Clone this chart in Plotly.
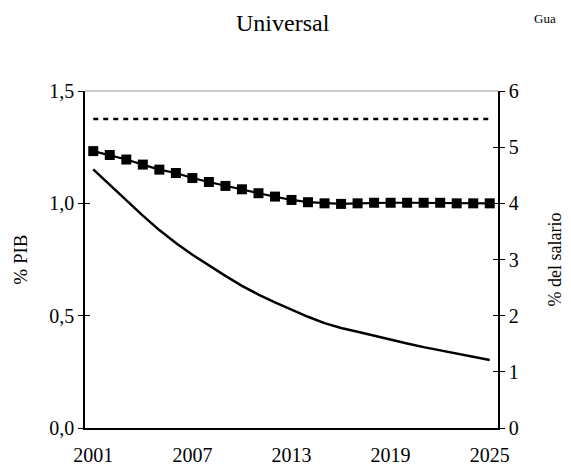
import plotly.graph_objects as go

years = list(range(2001, 2026))

# Solid line: % PIB (left axis)
pib = [1.151, 1.082, 1.013, 0.945, 0.881, 0.823, 0.771, 0.723, 0.677, 0.633,
       0.594, 0.559, 0.526, 0.495, 0.467, 0.445, 0.428, 0.410, 0.393, 0.376,
       0.360, 0.345, 0.330, 0.316, 0.303]

# Squares line: % del salario (right axis)
salario = [4.93, 4.86, 4.78, 4.69, 4.60, 4.54, 4.45, 4.38, 4.31, 4.25,
           4.18, 4.12, 4.06, 4.02, 4.00, 3.99, 4.00, 4.01, 4.01, 4.01,
           4.01, 4.01, 4.00, 4.00, 4.00]

# Dotted line: % del salario (right axis)
salario_ref = [5.5] * 25

left_ticks = [0.0, 0.5, 1.0, 1.5]
right_ticks = [0, 1, 2, 3, 4, 5, 6]
x_ticks = [2001, 2007, 2013, 2019, 2025]

FONT = "Liberation Serif"

fig = go.Figure()
fig.add_trace(go.Scatter(x=years, y=salario_ref, yaxis="y2", mode="lines",
                         line=dict(color="black", width=2.5, dash="5px,5px"),
                         showlegend=False, hoverinfo="skip"))
fig.add_trace(go.Scatter(x=years, y=salario, yaxis="y2", mode="lines+markers",
                         line=dict(color="black", width=2.2),
                         marker=dict(symbol="square", size=10, color="black"),
                         showlegend=False))
fig.add_trace(go.Scatter(x=years, y=pib, yaxis="y", mode="lines",
                         line=dict(color="black", width=2.5),
                         showlegend=False))
# invisible traces to activate the tick-overlay axes (cross ticks)
fig.add_trace(go.Scatter(x=[years[0]], y=[0], yaxis="y3", mode="markers",
                         marker=dict(opacity=0), showlegend=False, hoverinfo="skip"))
fig.add_trace(go.Scatter(x=[years[0]], y=[0], yaxis="y4", mode="markers",
                         marker=dict(opacity=0), showlegend=False, hoverinfo="skip"))

tickfont = dict(family=FONT, size=20, color="black")

fig.update_layout(
    template="none",
    width=563, height=460,
    margin=dict(l=77, r=73, t=83, b=40, pad=0),
    paper_bgcolor="white", plot_bgcolor="white",
    separators=", ",
    xaxis=dict(range=[2000.5, 2025.5], tickvals=x_ticks, ticks="",
               showline=True, linecolor="black", linewidth=1.5,
               showgrid=False, zeroline=False, tickfont=tickfont,
               ticklabelstandoff=8, automargin=False),
    yaxis=dict(range=[0, 1.5], tickvals=left_ticks, tickformat=".1f",
               ticks="outside", ticklen=5, tickcolor="black", tickwidth=1,
               showline=True, linecolor="black", linewidth=1.5,
               showgrid=False, zeroline=False, tickfont=tickfont,
               automargin=False),
    yaxis2=dict(range=[0, 6], tickvals=right_ticks, overlaying="y", side="right",
                anchor="x",
                ticks="outside", ticklen=5, tickcolor="black", tickwidth=1,
                showline=True, linecolor="black", linewidth=1.5,
                showgrid=False, zeroline=False, tickfont=tickfont,
                automargin=False),
    yaxis3=dict(range=[0, 1.5], tickvals=left_ticks, overlaying="y", side="left",
                anchor="x", ticks="inside", ticklen=5, tickcolor="black",
                tickwidth=1, showticklabels=False, showline=False,
                showgrid=False, zeroline=False, automargin=False),
    yaxis4=dict(range=[0, 6], tickvals=right_ticks, overlaying="y", side="right",
                anchor="x", ticks="inside", ticklen=5, tickcolor="black",
                tickwidth=1, showticklabels=False, showline=False,
                showgrid=False, zeroline=False, automargin=False),
    shapes=[dict(type="line", xref="paper", yref="paper", x0=0, x1=1, y0=1, y1=1,
                 line=dict(color="#999999", width=1))],
    annotations=[
        dict(text="Universal", xref="paper", yref="paper", x=0.48, y=1.157,
             xanchor="center", yanchor="bottom", showarrow=False,
             font=dict(family=FONT, size=24, color="black")),
        dict(text="% PIB", xref="paper", yref="paper", x=-0.157, y=0.5,
             xanchor="center", yanchor="middle", textangle=-90, showarrow=False,
             font=dict(family=FONT, size=19, color="black")),
        dict(text="% del salario", xref="paper", yref="paper", x=1.138, y=0.5,
             xanchor="center", yanchor="middle", textangle=-90, showarrow=False,
             font=dict(family=FONT, size=18, color="black")),
        dict(text="Gua", xref="paper", yref="paper", x=1.082, y=1.243,
             xanchor="left", yanchor="top", showarrow=False,
             font=dict(family=FONT, size=13, color="black")),
    ],
)

fig.write_html("out.html")
